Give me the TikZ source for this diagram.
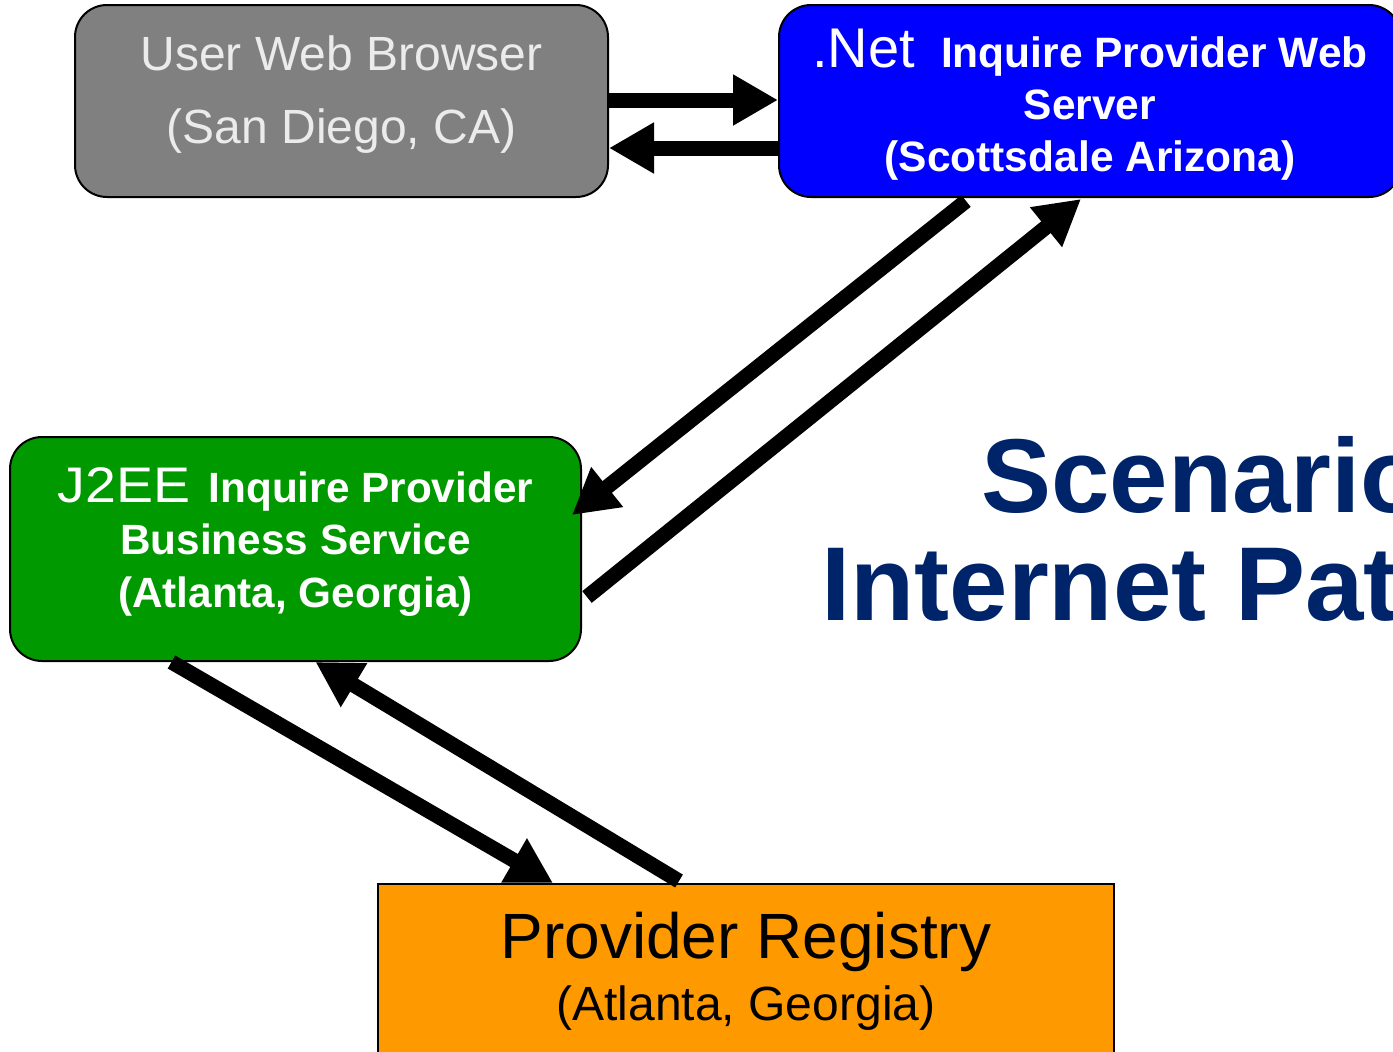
\documentclass[tikz,border=0pt]{standalone}
\usepackage{fontspec}
\setmainfont{Liberation Sans}
\usetikzlibrary{arrows.meta}
\definecolor{boxgray}{HTML}{808080}
\definecolor{boxblue}{HTML}{0000FF}
\definecolor{boxgreen}{HTML}{009900}
\definecolor{boxorange}{HTML}{FF9900}
\definecolor{titleblue}{RGB}{0,36,105}
\begin{document}
\begin{tikzpicture}[x=0.5pt,y=-0.5pt,
    site/.style={draw=black, line width=1pt, rounded corners=16pt, inner sep=0pt, align=center, text=white},
    flow/.style={line width=7.5pt, -{Triangle[length=22.5pt,width=24pt]}},
    heading/.style={font=\fontsize{52.5}{60}\selectfont\bfseries, text=titleblue, anchor=base west, inner sep=0pt}]
  \useasboundingbox (0,0) rectangle (1393,1051);
  \clip (0,0) rectangle (1393,1051);
  \node[heading] (title1) at (981,512) {Scenario}; \node[heading] (title2) at (821,620) {Internet Path};

  \node[site, fill=boxgray, minimum width=266.5pt, minimum height=96pt, text depth=11pt, text=white!92!black, font=\fontsize{24}{36.5}\selectfont] (browser) at (341.5,101) {User Web Browser\\(San Diego, CA)};
  \node[site, fill=boxblue, minimum width=311pt, minimum height=96pt, text depth=0.5pt, font=\fontsize{21.25}{26}\selectfont\bfseries] (netserver) at (1090,101) {{\fontsize{28}{26}\selectfont\mdseries .Net}\hspace{13pt}Inquire Provider Web\\Server\\(Scottsdale Arizona)};
  \node[site, fill=boxgreen, minimum width=285.5pt, minimum height=112pt, text depth=11.5pt, font=\fontsize{21.15}{26.25}\selectfont\bfseries] (j2ee) at (295.5,549) {{\fontsize{25}{26}\selectfont\mdseries\scalebox{1.11}[1]{J2EE}}\hspace{9pt}Inquire Provider\\Business Service\\(Atlanta, Georgia)};
  \node[site, rounded corners=0pt, fill=boxorange, text=black, minimum width=368pt, minimum height=87pt, font=\fontsize{32}{31}\selectfont] (registry) at (746,971) {Provider Registry\\{\fontsize{24}{31}\selectfont(Atlanta, Georgia)}};

  \draw[flow] ([yshift=0.5pt]browser.east) to ([yshift=0.5pt]netserver.west); \draw[flow] ([yshift=-23.5pt]netserver.west) to ([yshift=-23.5pt]browser.east);
  \draw[flow] ([xshift=-62pt,yshift=-1.5pt]netserver.south) to ([xshift=-5pt,yshift=17pt]j2ee.east); \draw[flow] ([xshift=2.5pt,yshift=-24pt]j2ee.east) to ([xshift=-4.5pt,yshift=-0.5pt]netserver.south);
  \draw[flow] ([xshift=-62pt]j2ee.south) to ([xshift=-96.5pt]registry.north); \draw[flow] ([xshift=-33.5pt,yshift=1pt]registry.north) to ([xshift=10pt]j2ee.south);
\end{tikzpicture}
\end{document}
